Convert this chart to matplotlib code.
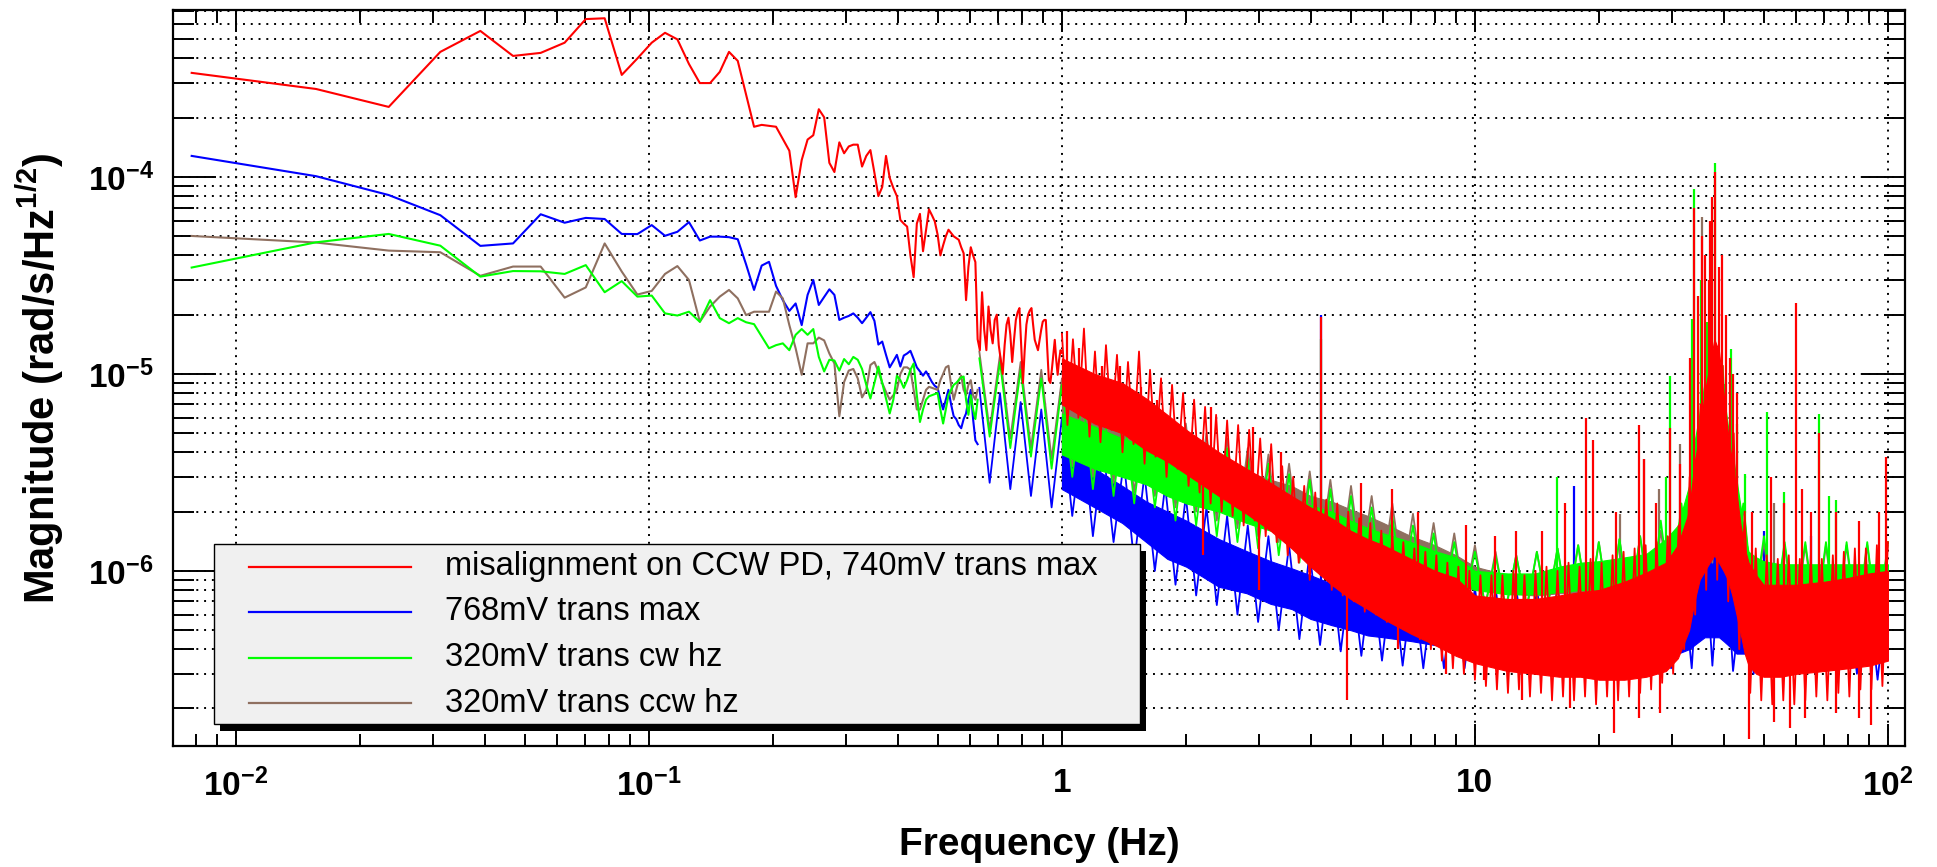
import numpy as np
import matplotlib
matplotlib.use("Agg")
import matplotlib.pyplot as plt
from matplotlib.patches import Rectangle
from matplotlib.lines import Line2D
from matplotlib.ticker import LogLocator, NullFormatter

plt.rcParams['font.family'] = ['Liberation Sans', 'DejaVu Sans']
plt.rcParams['mathtext.fontset'] = 'custom'
plt.rcParams['mathtext.rm'] = 'Liberation Sans:bold'
plt.rcParams['mathtext.it'] = 'Liberation Sans:bold'
plt.rcParams['mathtext.bf'] = 'Liberation Sans:bold'

# FFT bins, 1/128 Hz resolution (low-frequency part, resolved point by point)
freq_low = np.arange(1, 81) / 128.0
freq_red = np.arange(1, 129) / 128.0

red_low = [3.38e-4, 2.80e-4, 2.27e-4, 4.32e-4, 5.52e-4, 4.12e-4, 4.27e-4, 4.81e-4, 6.34e-4, 6.40e-4,
           3.30e-4, 4.0e-4, 4.81e-4, 5.4e-4, 5.0e-4, 3.75e-4, 3.0e-4, 3.0e-4, 3.42e-4, 4.32e-4,
           3.89e-4, 2.63e-4, 1.80e-4, 1.84e-4, 1.82e-4, 1.80e-4, 1.56e-4, 1.36e-4, 7.9e-5, 1.22e-4,
           1.55e-4, 1.63e-4, 2.21e-4, 2.01e-4, 1.18e-4, 1.06e-4, 1.50e-4, 1.32e-4, 1.43e-4, 1.46e-4,
           1.46e-4, 1.13e-4, 1.28e-4, 1.37e-4, 1.05e-4, 8.0e-5, 8.9e-5, 1.28e-4, 9.9e-5, 8.8e-5,
           8.0e-5, 6.05e-5, 5.8e-5, 5.6e-5, 4.0e-5, 3.1e-5, 5.8e-5, 6.5e-5, 4.2e-5, 5.4e-5,
           6.85e-5, 6.4e-5, 5.95e-5, 5.1e-5, 4.0e-5, 4.5e-5, 5.0e-5, 5.4e-5, 5.2e-5, 5.0e-5,
           4.9e-5, 4.8e-5, 4.4e-5, 4.1e-5, 2.37e-5, 3.5e-5, 4.4e-5, 4.0e-5, 3.7e-5, 1.5e-5,
           1.32e-5, 2.6e-5, 1.67e-5, 1.32e-5, 2.2e-5, 1.67e-5, 1.43e-5, 1.88e-5, 2.0e-5, 1.4e-5,
           1.18e-5, 1.0e-5, 1.4e-5, 1.78e-5, 1.93e-5, 1.58e-5, 1.15e-5, 1.49e-5, 1.88e-5, 2.06e-5,
           2.16e-5, 1.4e-5, 9.0e-6, 1.32e-5, 1.78e-5, 2.0e-5, 2.1e-5, 2.16e-5, 1.78e-5, 1.49e-5,
           1.4e-5, 1.32e-5, 1.49e-5, 1.67e-5, 1.84e-5, 1.88e-5, 1.88e-5, 1.32e-5, 9.3e-6, 9.0e-6,
           1.05e-5, 1.25e-5, 1.49e-5, 1.18e-5, 9.9e-6, 1.18e-5, 1.32e-5, 1.28e-5]

blue_low = [1.28e-4, 1.01e-4, 8.1e-5, 6.4e-5, 4.47e-5, 4.6e-5, 6.47e-5, 5.86e-5, 6.2e-5, 6.12e-5,
            5.14e-5, 5.13e-5, 5.7e-5, 5.03e-5, 5.27e-5, 5.9e-5, 4.76e-5, 4.98e-5, 4.98e-5, 4.95e-5,
            4.83e-5, 3.6e-5, 2.67e-5, 3.55e-5, 3.71e-5, 2.8e-5, 2.37e-5, 2.09e-5, 2.28e-5, 1.77e-5,
            2.52e-5, 3.0e-5, 2.24e-5, 2.46e-5, 2.69e-5, 2.52e-5, 1.88e-5, 1.93e-5, 1.97e-5, 2.03e-5,
            1.93e-5, 1.81e-5, 1.93e-5, 2.06e-5, 1.86e-5, 1.41e-5, 1.46e-5, 1.25e-5, 1.08e-5, 1.16e-5,
            1.25e-5, 1.09e-5, 1.24e-5, 1.27e-5, 1.31e-5, 1.19e-5, 1.08e-5, 1.03e-5, 9.8e-6, 1.03e-5,
            9.7e-6, 9.1e-6, 8.7e-6, 8.5e-6, 7.4e-6, 6.6e-6, 7.4e-6, 8.3e-6, 7.0e-6, 6.1e-6,
            5.9e-6, 5.5e-6, 5.3e-6, 5.9e-6, 6.3e-6, 7.4e-6, 8.3e-6, 5.9e-6, 4.6e-6, 4.4e-6]

green_low = [3.47e-5, 4.66e-5, 5.14e-5, 4.48e-5, 3.12e-5, 3.33e-5, 3.32e-5, 3.22e-5, 3.57e-5, 2.6e-5,
             2.96e-5, 2.47e-5, 2.5e-5, 2.03e-5, 1.98e-5, 2.07e-5, 1.84e-5, 2.37e-5, 1.92e-5, 1.81e-5,
             1.92e-5, 1.83e-5, 1.79e-5, 1.55e-5, 1.35e-5, 1.40e-5, 1.43e-5, 1.32e-5, 1.58e-5, 1.69e-5,
             1.58e-5, 1.69e-5, 1.22e-5, 1.03e-5, 1.18e-5, 1.17e-5, 1.04e-5, 1.19e-5, 1.12e-5, 1.22e-5,
             1.18e-5, 1.06e-5, 8.8e-6, 7.5e-6, 9.0e-6, 1.09e-5, 9.0e-6, 7.5e-6, 6.3e-6, 7.4e-6,
             9.8e-6, 9.3e-6, 8.5e-6, 9.3e-6, 1.05e-5, 1.13e-5, 7.8e-6, 5.7e-6, 6.6e-6, 7.4e-6,
             7.7e-6, 7.8e-6, 7.9e-6, 8.0e-6, 6.6e-6, 5.6e-6, 6.6e-6, 7.8e-6, 8.3e-6, 8.8e-6,
             9.0e-6, 9.3e-6, 9.6e-6, 9.7e-6, 7.4e-6, 6.2e-6, 7.8e-6, 6.6e-6, 5.9e-6, 7.4e-6]

brown_low = [5.02e-5, 4.65e-5, 4.23e-5, 4.15e-5, 3.15e-5, 3.51e-5, 3.51e-5, 2.44e-5, 2.75e-5, 4.6e-5,
             3.31e-5, 2.53e-5, 2.64e-5, 3.22e-5, 3.53e-5, 3.0e-5, 1.84e-5, 2.2e-5, 2.47e-5, 2.67e-5,
             2.42e-5, 1.99e-5, 2.07e-5, 2.07e-5, 2.07e-5, 2.62e-5, 2.42e-5, 1.77e-5, 1.35e-5, 9.9e-6,
             1.43e-5, 1.43e-5, 1.53e-5, 1.48e-5, 1.27e-5, 1.13e-5, 6.1e-6, 9.1e-6, 1.04e-5, 1.06e-5,
             9.5e-6, 7.6e-6, 8.3e-6, 1.11e-5, 1.15e-5, 1.03e-5, 9.0e-6, 8.1e-6, 7.4e-6, 7.8e-6,
             8.3e-6, 1.0e-5, 1.08e-5, 1.08e-5, 1.05e-5, 8.3e-6, 6.6e-6, 6.6e-6, 7.4e-6, 8.3e-6,
             8.6e-6, 8.5e-6, 8.4e-6, 8.3e-6, 9.3e-6, 1.0e-5, 1.08e-5, 1.1e-5, 8.8e-6, 7.4e-6,
             8.3e-6, 9.3e-6, 9.8e-6, 8.3e-6, 7.8e-6, 8.8e-6, 9.3e-6, 7.8e-6, 7.4e-6, 8.3e-6]

# dense part above 1 Hz: core of the noise band (units of 1e-6)
band_freq = [1.0, 1.2, 1.4, 1.6, 1.8, 2.0, 2.4, 2.8, 3.2, 3.6, 4.0, 4.5, 5.0, 5.5,
             6.0, 7.0, 8.0, 9.0, 10, 12, 14, 16, 18, 20, 23, 26, 29, 31, 33, 34, 35, 36, 37, 38,
             39, 40, 41, 42, 43, 44, 45, 46, 48, 50, 55, 60, 70, 80, 90, 100]

red_hi = [12, 10, 9, 7.5, 6.2, 5.2, 4.0, 3.3, 2.8, 2.4, 2.1, 1.85, 1.6, 1.45, 1.35, 1.15, 1.0,
          0.92, 0.75, 0.72, 0.72, 0.75, 0.78, 0.8, 0.88, 0.98, 1.1, 1.35, 2.0, 3.5, 5, 8, 11, 15,
          13, 8, 5, 3.5, 2.5, 1.7, 1.3, 1.1, 0.95, 0.85, 0.85, 0.85, 0.88, 0.92, 0.97, 1.0]
red_lo = [7, 5.6, 5.0, 4.1, 3.6, 3.1, 2.4, 1.95, 1.6, 1.3, 1.05, 0.85, 0.72, 0.64, 0.57, 0.48, 0.42,
          0.37, 0.34, 0.31, 0.3, 0.29, 0.29, 0.28, 0.28, 0.29, 0.31, 0.36, 0.5, 0.7, 0.9, 1.0, 1.1, 1.2,
          1.1, 1.0, 0.9, 0.75, 0.6, 0.48, 0.38, 0.33, 0.3, 0.29, 0.29, 0.3, 0.31, 0.32, 0.33, 0.35]

green_hi = [6.3, 5.4, 4.7, 4.3, 4.0, 3.6, 3.2, 2.8, 2.5, 2.35, 2.15, 2.0, 1.8, 1.65,
            1.55, 1.4, 1.26, 1.17, 1.0, 0.97, 0.97, 1.05, 1.1, 1.12, 1.17, 1.22, 1.45, 1.7, 2.7, 4.5, 6.3, 9, 11, 12,
            11, 8, 5.4, 4, 2.9, 2.1, 1.5, 1.25, 1.17, 1.12, 1.08, 1.08, 1.08, 1.08, 1.08, 1.08]
green_lo = [3.9, 3.3, 3.0, 2.75, 2.4, 2.2, 2.0, 1.75, 1.6, 1.5, 1.38, 1.27, 1.15, 1.1,
            1.05, 0.97, 0.9, 0.86, 0.8, 0.76, 0.76, 0.78, 0.8, 0.79, 0.79, 0.81, 0.88, 0.93, 1.1, 1.3, 1.5, 1.65, 1.75, 1.75,
            1.65, 1.45, 1.3, 1.2, 1.1, 1.0, 0.88, 0.82, 0.77, 0.77, 0.75, 0.72, 0.68, 0.66, 0.66, 0.66]

brown_hi = [7.2, 6.3, 5.4, 5.0, 4.5, 4.1, 3.6, 3.2, 2.9, 2.7, 2.4, 2.25, 2.05, 1.9,
            1.75, 1.5, 1.35, 1.2, 1.05, 0.95, 0.95, 1.0, 1.05, 1.08, 1.12, 1.17, 1.35, 1.6, 2.5, 4, 5.8, 8, 10, 11,
            9, 7, 5, 3.6, 2.7, 2.0, 1.45, 1.2, 1.12, 1.08, 1.03, 1.03, 1.03, 1.03, 1.03, 1.03]
brown_lo = [4.4, 3.7, 3.3, 3.1, 2.75, 2.5, 2.2, 2.0, 1.75, 1.65, 1.55, 1.43, 1.3, 1.2,
            1.15, 1.05, 0.97, 0.9, 0.84, 0.77, 0.75, 0.77, 0.77, 0.77, 0.77, 0.79, 0.86, 0.9, 1.05, 1.2, 1.43, 1.55, 1.65, 1.65,
            1.55, 1.38, 1.2, 1.1, 1.05, 0.93, 0.86, 0.79, 0.75, 0.75, 0.72, 0.68, 0.66, 0.64, 0.64, 0.64]

blue_hi = [4.5, 3.3, 2.7, 2.25, 2.0, 1.8, 1.45, 1.26, 1.12, 1.03, 0.95, 0.86, 0.81, 0.77,
           0.72, 0.68, 0.65, 0.63, 0.61, 0.61, 0.61, 0.63, 0.63, 0.63, 0.63, 0.65, 0.68, 0.72, 0.9, 1.26, 1.6, 1.8, 1.8, 1.8,
           1.7, 1.5, 1.26, 1.0, 0.81, 0.72, 0.65, 0.63, 0.63, 0.63, 0.63, 0.63, 0.63, 0.63, 0.63, 0.63]
blue_lo = [2.6, 2.1, 1.75, 1.4, 1.15, 1.05, 0.83, 0.77, 0.68, 0.64, 0.57, 0.53, 0.5, 0.47,
           0.46, 0.44, 0.42, 0.41, 0.4, 0.38, 0.38, 0.38, 0.38, 0.38, 0.38, 0.38, 0.38, 0.38, 0.4, 0.42, 0.44, 0.46, 0.46, 0.46,
           0.46, 0.44, 0.42, 0.4, 0.38, 0.38, 0.38, 0.38, 0.38, 0.38, 0.38, 0.38, 0.38, 0.38, 0.38, 0.36]

# display grids for the noise texture (75 and 40 points per decade)
red_grid = 10 ** (np.arange(151) / 75.0)
other_grid = 10 ** (np.arange(89) / 40.0 - 0.2)

# noise excursions (units of 1e-7)
red_zig = [160, 55, 150, 60, 170, 48, 130, 45, 140, 52, 125, 40, 115, 44, 130, 35, 105, 38, 95, 30,
           88, 33, 80, 27, 74, 25, 68, 22, 62, 20, 58, 19, 55, 17, 52, 18, 47, 15, 44, 14,
           34, 12, 30, 11, 27, 9, 25, 9.5, 23, 8, 22, 7.5, 20, 7, 18.5, 6.2, 17.5, 6, 16, 5.5,
           15, 5.5, 14, 5, 13, 4.5, 12.5, 4, 12, 3.5, 11, 3.2, 10.5, 3.0, 10, 2.8, 9.5, 2.6, 9.5, 2.5,
           9.5, 2.4, 10, 2.5, 9.5, 2.3, 10, 2.4, 10.5, 2.2, 10, 2.3, 11, 2.2, 10.5, 2.3, 11.5, 2.1, 11, 2.3,
           12, 2.2, 12.5, 2.3, 13, 2.4, 13.5, 2.5, 14, 2.7, 15, 3, 17, 4, 30, 6, 70, 8, 170, 9,
           110, 7, 50, 4, 20, 2.4, 13, 2.2, 12, 2.1, 11.5, 2.2, 12, 2.1, 11.5, 2.2, 12, 2.3, 11.5, 2.2,
           12, 2.4, 12.5, 2.3, 13, 2.5, 13, 2.5, 13.5, 2.6, 14]
green_zig = [120, 48, 115, 42, 105, 38, 95, 33, 88, 30, 78, 26, 72, 24, 64, 22, 60, 21, 52, 18,
             50, 17, 44, 15, 42, 14, 37, 13, 35, 12, 31, 11, 29, 10, 26, 9.5, 24, 9, 21, 8.5,
             19, 8, 17, 7.5, 15.5, 7, 14, 6.8, 12.5, 6.6, 12, 6.5, 12, 6.5, 12.5, 6.5, 13, 6.5, 13.5, 6.4,
             14, 6.2, 14.5, 6.3, 15, 6.5, 18, 7, 22, 9, 90, 12, 110, 10, 22, 6.5, 15, 6, 14, 5.8,
             14, 5.6, 14, 5.4, 14, 5.3, 14, 5.2, 14]
brown_zig = [130, 52, 125, 47, 115, 42, 105, 37, 95, 34, 88, 30, 80, 28, 72, 25, 66, 24, 60, 21,
             56, 20, 50, 18, 47, 16.5, 42, 15, 39, 14, 35, 13, 32, 12, 29, 11, 27, 10.5, 24, 9.5,
             22, 9, 19.5, 8.2, 17.5, 7.6, 15.5, 7, 13.5, 6.6, 12.5, 6.3, 12, 6.2, 12.5, 6.3, 13, 6.2, 13.5, 6.1,
             14, 6.1, 14.5, 6.2, 15, 6.3, 16, 6.8, 20, 8.5, 75, 11, 85, 9.5, 21, 6.2, 14, 5.8, 13.5, 5.5,
             13.5, 5.3, 13.5, 5.1, 13.5, 5.0, 13.5, 5.0, 13.5]
blue_zig = [85, 28, 80, 26, 72, 24, 66, 21, 60, 19, 50, 15, 42, 14, 36, 11, 31, 10, 27, 8.5,
            24, 7.5, 21, 6.7, 19, 6, 17, 5.5, 15, 5, 13.5, 4.5, 12.5, 4.2, 11.5, 3.9, 10.5, 3.7, 10, 3.5,
            9.5, 3.3, 9, 3.2, 8.6, 3.2, 8.3, 3.2, 8.2, 3.2, 8.2, 3.2, 8.2, 3.1, 8.3, 3.1, 8.5, 3.1, 8.5, 3.1,
            8.5, 3.1, 8.6, 3.1, 8.7, 3.2, 9.5, 3.2, 11, 3.2, 22, 3.3, 20, 3.1, 9, 3.0, 8.5, 3.0, 8.5, 3.0,
            8.5, 3.0, 8.5, 3.0, 8.5, 3.0, 8.5, 2.8, 8.5]

# narrow lines sticking out of the band
red_spike_f = [1.03, 1.1, 1.25, 1.38, 1.55, 1.7, 2.3, 2.9, 3.4, 4.25, 5.3, 6.3, 7.3, 9.5, 11.2,
               12.6, 14.5, 16.5, 18.6, 19.3, 22.0, 25.0, 25.6, 27.5, 29.6, 31.4, 33.2, 34.0, 34.6, 35.5,
               36.0, 36.8, 37.0, 37.5, 38.2, 39.0, 39.6, 40.5, 41.5, 42.2, 43.0, 47.0, 52.0, 56.0, 60.0,
               62.0, 65.0, 68.0, 75.0, 85.0, 95.0, 99.0]
red_spike_top = [1.65e-5, 1.35e-5, 1.1e-5, 1.1e-5, 8.6e-6, 7.4e-6, 6.8e-6, 5.4e-6, 4.0e-6, 1.95e-5,
                 2.8e-6, 2.6e-6, 2.0e-6, 1.7e-6, 1.5e-6, 1.6e-6, 1.6e-6, 2.2e-6, 6.0e-6, 4.6e-6,
                 2.0e-6, 5.5e-6, 3.7e-6, 2.2e-6, 5.3e-6, 3.5e-6, 1.2e-5, 7.0e-5, 2.5e-5, 5.0e-5,
                 4.0e-5, 3.0e-5, 6.0e-5, 7.9e-5, 1.06e-4, 3.5e-5, 4.0e-5, 2.0e-5, 1.2e-5, 1.0e-5,
                 8.0e-6, 2.0e-6, 3.0e-6, 2.2e-6, 2.3e-5, 2.6e-6, 2.0e-6, 5.0e-6, 2.0e-6, 1.8e-6,
                 2.0e-6, 3.8e-6]
red_dip_f = [2.2, 3.0, 4.9, 6.5, 8.5, 10.5, 13.0, 17.0, 21.7, 25.0, 28.0, 46.0, 53.0, 58.0, 63.0,
             75.0, 85.0, 91.0]
red_dip_bottom = [1.2e-6, 8e-7, 2.2e-7, 4e-7, 3e-7, 2.8e-7, 2.2e-7, 2.0e-7, 1.5e-7, 1.8e-7, 1.9e-7,
                  1.4e-7, 1.7e-7, 1.6e-7, 1.8e-7, 1.9e-7, 1.8e-7, 1.65e-7]
green_spike_f = [4.25, 15.8, 29.0, 29.6, 33.6, 34.0, 35.2, 36.5, 38.2, 41.7, 43.0, 45.0, 51.0, 56.0,
                 68.0, 72.0, 75.0]
green_spike_top = [1.5e-5, 3.0e-6, 3.0e-6, 9.8e-6, 1.9e-5, 8.7e-5, 3.0e-5, 1.84e-5, 1.18e-4, 1.34e-5,
                   5.6e-6, 3.1e-6, 6.4e-6, 2.5e-6, 6.25e-6, 2.4e-6, 2.3e-6]
brown_spike_f = [22.5, 25.6, 27.9, 31.4, 35.5, 37.0, 40.2, 53.0]
brown_spike_top = [1.95e-6, 3.7e-6, 2.6e-6, 4.4e-6, 6.3e-5, 2.0e-5, 8.9e-6, 2.2e-6]
blue_spike_f = [4.25, 17.4, 50.0, 65.0]
blue_spike_top = [2.0e-5, 2.7e-6, 1.6e-6, 1.5e-6]

labels = ['misalignment on CCW PD, 740mV trans max', '768mV trans max',
          '320mV trans cw hz', '320mV trans ccw hz']
colors = ['#ff0000', '#0000ff', '#00ff00', '#8f7060']

W, H = 1937, 867
fig = plt.figure(figsize=(W / 100, H / 100), dpi=100)
L, R, T, B = 173, 1905, 10, 746
ax = fig.add_axes([L / W, 1 - B / H, (R - L) / W, (B - T) / H])
ax.set_xscale('log')
ax.set_yscale('log')
ax.set_xlim(0.00704, 110)
ax.set_ylim(1.29e-7, 7.05e-4)


def log_interp(x, xp, fp):
    return 10 ** np.interp(np.log10(x), np.log10(xp), np.log10(fp))


def draw_trace(f_low, v_low, lo, hi, zf, zv, up_f, up_top, color, z, dn_f=None, dn_bot=None):
    lo = np.array(lo) * 1e-6
    hi = np.array(hi) * 1e-6
    ax.plot(f_low, v_low, color=color, lw=1.5, zorder=z)
    ax.fill_between(band_freq, lo, hi, color=color, lw=0.8, edgecolor=color, zorder=z)
    ax.plot(zf, np.array(zv) * 1e-7, color=color, lw=1.3, zorder=z)
    mid = np.sqrt(lo * hi)
    ax.vlines(up_f, log_interp(up_f, band_freq, mid), up_top, color=color, lw=1.6, zorder=z)
    if dn_f is not None:
        ax.vlines(dn_f, dn_bot, log_interp(dn_f, band_freq, mid), color=color, lw=1.6, zorder=z)


draw_trace(freq_low, blue_low, blue_lo, blue_hi, other_grid, blue_zig,
           blue_spike_f, blue_spike_top, colors[1], 2)
draw_trace(freq_low, brown_low, brown_lo, brown_hi, other_grid, brown_zig,
           brown_spike_f, brown_spike_top, colors[3], 3)
draw_trace(freq_low, green_low, green_lo, green_hi, other_grid, green_zig,
           green_spike_f, green_spike_top, colors[2], 4)
draw_trace(freq_red, red_low, red_lo, red_hi, red_grid, red_zig,
           red_spike_f, red_spike_top, colors[0], 5, red_dip_f, red_dip_bottom)

# axes, ticks and grid in the ROOT look
for sp in ax.spines.values():
    sp.set_linewidth(1.6)
ax.set_xticks([0.01, 0.1, 1, 10, 100], [r'$10^{-2}$', r'$10^{-1}$', '1', '10', r'$10^{2}$'])
ax.set_yticks([1e-6, 1e-5, 1e-4], [r'$10^{-6}$', r'$10^{-5}$', r'$10^{-4}$'])
ax.xaxis.set_minor_locator(LogLocator(base=10, subs=np.arange(2, 10), numticks=20))
ax.yaxis.set_minor_locator(LogLocator(base=10, subs=np.arange(2, 10), numticks=20))
ax.xaxis.set_minor_formatter(NullFormatter())
ax.yaxis.set_minor_formatter(NullFormatter())
ax.tick_params(which='both', direction='in', top=True, right=True, width=1.4, labelsize=24)
ax.tick_params(axis='x', which='major', length=16, pad=16)
ax.tick_params(axis='x', which='minor', length=9)
ax.tick_params(axis='y', which='major', length=31, pad=14)
ax.tick_params(axis='y', which='minor', length=15)
for lab in ax.get_xticklabels() + ax.get_yticklabels():
    lab.set_fontweight('bold')
ax.grid(True, which='major', axis='both', color='black', lw=1.4, ls=(0, (1, 3)))
ax.grid(True, which='minor', axis='y', color='black', lw=1.4, ls=(0, (1, 3)))
ax.set_axisbelow(True)

fig.text(1039 / W, 1 - 845 / H, 'Frequency (Hz)', ha='center', va='center',
         fontsize=28, fontweight='bold')
fig.text(40 / W, 1 - 378 / H, r'Magnitude (rad/s/Hz$^{1/2}$)', ha='center', va='center',
         rotation=90, fontsize=30, fontweight='bold')


# legend box with shadow
def px(x, y):
    return x / W, 1 - y / H


lx0, ly0, lx1, ly1 = 214, 544, 1140, 724
fig.patches.append(Rectangle(px(lx0 + 6, ly1 + 7), (lx1 - lx0) / W, (ly1 - ly0) / H,
                             transform=fig.transFigure, facecolor='black', edgecolor='none', zorder=20))
fig.patches.append(Rectangle(px(lx0, ly1), (lx1 - lx0) / W, (ly1 - ly0) / H,
                             transform=fig.transFigure, facecolor='#f0f0f0', edgecolor='black',
                             lw=1.0, zorder=21))
rows = [567, 612, 658, 703]
for lab, col, ry in zip(labels, colors, rows):
    x0, y0 = px(249, ry)
    x1, _ = px(411, ry)
    fig.lines.append(Line2D([x0, x1], [y0, y0], transform=fig.transFigure, color=col, lw=1.6, zorder=22))
    tx, ty = px(445, ry)
    fig.text(tx, ty, lab, ha='left', va='center', fontsize=23.5, zorder=23)

fig.savefig('out.png', dpi=100)
